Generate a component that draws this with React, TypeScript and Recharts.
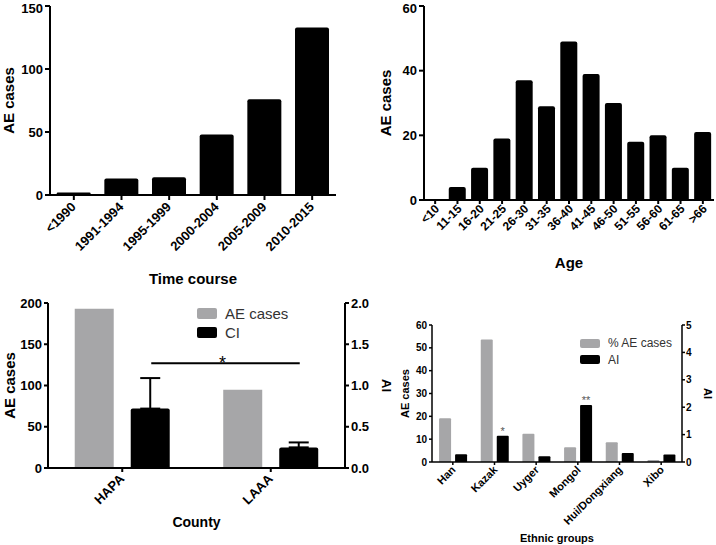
import React from 'react';
import { BarChart, Bar, XAxis, YAxis, ErrorBar, ReferenceLine, Legend, LabelList } from 'recharts';

const FONT = '"Liberation Sans", Arial, Helvetica, sans-serif';
const GRAY = '#a6a6a8';

// A: AE cases by time course
const periods = ['<1990', '1991-1994', '1995-1999', '2000-2004', '2005-2009', '2010-2015'];
const periodCases = [2, 13, 14, 48, 76, 133];

// B: AE cases by age
const ageGroups = ['<10', '11-15', '16-20', '21-25', '26-30', '31-35', '36-40', '41-45', '46-50', '51-55', '56-60', '61-65', '>66'];
const ageCases = [0, 4, 10, 19, 37, 29, 49, 39, 30, 18, 20, 10, 21];

// C: county
const counties = ['HAPA', 'LAAA'];
const countyCases = [193, 95];
const countyCI = [0.72, 0.25];
const countyCIErr = [0.37, 0.06];
const countySigLevel = 1.27;

// D: ethnic groups
const ethnicGroups = ['Han', 'Kazak', 'Uyger', 'Mongol', 'Hui/Dongxiang', 'Xibo'];
const ethnicPct = [19.2, 53.6, 12.4, 6.5, 8.6, 0.9];
const ethnicAI = [0.28, 0.96, 0.21, 2.08, 0.33, 0.27];
const ethnicSig = ['', '*', '', '**', '', ''];

const timeData = periods.map((name, i) => ({ name, cases: periodCases[i] }));
const ageData = ageGroups.map((name, i) => ({ name, cases: ageCases[i] }));
const countyData = counties.map((name, i) => ({ name, cases: countyCases[i], ci: countyCI[i], err: [0, countyCIErr[i]] }));
const ethnicData = ethnicGroups.map((name, i) => ({ name, pct: ethnicPct[i], ai: ethnicAI[i], sig: ethnicSig[i] }));

const line2 = { stroke: '#000', strokeWidth: 2 };
const line15 = { stroke: '#000', strokeWidth: 1.5 };

const SlantTick = (props: any) => {
  const { x, y, payload, size, dx = -2, dy = 6 } = props;
  return (
    <text
      x={x}
      y={y}
      dx={dx}
      dy={dy}
      transform={`rotate(-45 ${x} ${y})`}
      textAnchor="end"
      fontSize={size}
      fontWeight="bold"
      fontFamily={FONT}
      fill="#000"
    >
      {payload.value}
    </text>
  );
};

const yTick = (size: number) => ({ fill: '#000', fontSize: size, fontWeight: 'bold', fontFamily: FONT });

const axisTitle = (size: number) => ({ textAnchor: 'middle', fontWeight: 'bold', fontSize: size, fill: '#000', fontFamily: FONT } as any);

const makeLegend = (fontSize: number, sw: number, sh: number, rowH: number) => (props: any) => (
  <div style={{ fontFamily: FONT, fontSize, color: '#333' }}>
    {props.payload.map((entry: any) => (
      <div key={entry.value} style={{ display: 'flex', alignItems: 'center', height: rowH }}>
        <span style={{ display: 'inline-block', width: sw, height: sh, background: entry.color, borderRadius: 2, marginRight: 8 }} />
        <span>{entry.value}</span>
      </div>
    ))}
  </div>
);

// significance bar drawn between the CI bars (shifted from category centre to the right-hand bar)
const SigLine = (props: any) => {
  const { x1, x2, y1 } = props;
  const shift = 29;
  return (
    <g>
      <line x1={x1 + shift} x2={x2 + shift} y1={y1} y2={y1} stroke="#000" strokeWidth={2} />
      <text x={(x1 + x2) / 2 + shift - 3} y={y1 + 5.5} textAnchor="middle" fontSize={18} fontFamily={FONT} fill="#000">*</text>
    </g>
  );
};

export default function App() {
  return (
    <div style={{ position: 'absolute', left: 0, top: 0, width: 716, height: 545, background: '#fff', overflow: 'hidden' }}>
      {/* A */}
      <div style={{ position: 'absolute', left: 0, top: 0 }}>
        <BarChart width={340} height={290} data={timeData} margin={{ top: 6, right: 4, left: 0, bottom: 0 }} barCategoryGap="14%">
          <XAxis
            dataKey="name"
            height={95}
            axisLine={line2}
            tickLine={line2}
            tickSize={5}
            interval={0}
            tick={(p: any) => <SlantTick {...p} size={13} />}
            label={{ value: 'Time course', position: 'insideBottom', offset: 6, style: axisTitle(15) }}
          />
          <YAxis
            width={50}
            domain={[0, 150]}
            ticks={[0, 50, 100, 150]}
            axisLine={line2}
            tickLine={line2}
            tickSize={5}
            tickMargin={2}
            tick={yTick(13)}
            label={{ value: 'AE cases', angle: -90, position: 'insideLeft', offset: 9, style: axisTitle(15) }}
          />
          <Bar dataKey="cases" fill="#000" radius={[2, 2, 0, 0]} isAnimationActive={false} />
        </BarChart>
      </div>

      {/* B */}
      <div style={{ position: 'absolute', left: 360, top: 0 }}>
        <BarChart width={356} height={290} data={ageData} margin={{ top: 6, right: 2, left: 0, bottom: 0 }} barCategoryGap="11%">
          <XAxis
            dataKey="name"
            height={90}
            axisLine={line2}
            tickLine={line2}
            tickSize={4}
            interval={0}
            tick={(p: any) => <SlantTick {...p} size={12} dx={1} dy={6} />}
            label={{ value: 'Age', position: 'insideBottom', offset: 22, style: axisTitle(15) }}
          />
          <YAxis
            width={64}
            domain={[0, 60]}
            ticks={[0, 20, 40, 60]}
            axisLine={line2}
            tickLine={line2}
            tickSize={5}
            tickMargin={2}
            tick={yTick(13)}
            label={{ value: 'AE cases', angle: -90, position: 'insideLeft', offset: 26, style: axisTitle(15) }}
          />
          <Bar dataKey="cases" fill="#000" radius={[2, 2, 0, 0]} isAnimationActive={false} />
        </BarChart>
      </div>

      {/* C */}
      <div style={{ position: 'absolute', left: 0, top: 280 }}>
        <BarChart width={400} height={265} data={countyData} margin={{ top: 23, right: 0, left: 0, bottom: 0 }} barCategoryGap="18%" barGap={17}>
          <XAxis
            dataKey="name"
            height={77}
            axisLine={line2}
            tickLine={line2}
            tickSize={4}
            interval={0}
            tick={(p: any) => <SlantTick {...p} size={13} />}
            label={{ value: 'County', position: 'insideBottom', offset: 18, style: axisTitle(14) }}
          />
          <YAxis
            yAxisId="left"
            width={48}
            domain={[0, 200]}
            ticks={[0, 50, 100, 150, 200]}
            axisLine={line2}
            tickLine={line2}
            tickSize={4}
            tickMargin={2}
            tick={yTick(13)}
            label={{ value: 'AE cases', angle: -90, position: 'insideLeft', offset: 10, style: axisTitle(15) }}
          />
          <YAxis
            yAxisId="right"
            orientation="right"
            width={55}
            domain={[0, 2]}
            ticks={[0, 0.5, 1, 1.5, 2]}
            tickFormatter={(v: number) => v.toFixed(1)}
            axisLine={line2}
            tickLine={line2}
            tickSize={4}
            tickMargin={2}
            tick={yTick(13)}
            label={{ value: 'AI', angle: 90, position: 'insideRight', offset: 13, style: axisTitle(13) }}
          />
          <Legend
            layout="vertical"
            align="center"
            verticalAlign="middle"
            content={makeLegend(15, 20, 11, 19)}
            wrapperStyle={{ left: 197, top: 24, width: 'auto', height: 'auto' }}
          />
          <Bar yAxisId="left" dataKey="cases" name="AE cases" fill={GRAY} isAnimationActive={false} />
          <Bar yAxisId="right" dataKey="ci" name="CI" fill="#000" radius={[2, 2, 0, 0]} isAnimationActive={false}>
            <ErrorBar dataKey="err" direction="y" width={10} stroke="#000" strokeWidth={2} />
          </Bar>
          <ReferenceLine
            yAxisId="right"
            segment={[{ x: counties[0], y: countySigLevel }, { x: counties[1], y: countySigLevel }]}
            shape={(p: any) => <SigLine {...p} />}
          />
        </BarChart>
      </div>

      {/* D */}
      <div style={{ position: 'absolute', left: 360, top: 300 }}>
        <BarChart width={356} height={245} data={ethnicData} margin={{ top: 25, right: 0, left: 0, bottom: 0 }} barCategoryGap="17%" barGap={4}>
          <XAxis
            dataKey="name"
            height={83}
            axisLine={line15}
            tickLine={line15}
            tickSize={3}
            interval={0}
            tick={(p: any) => <SlantTick {...p} size={11} dx={0} dy={5} />}
            label={{ value: 'Ethnic groups', position: 'insideBottom', offset: 3, style: axisTitle(11) }}
          />
          <YAxis
            yAxisId="left"
            width={72}
            domain={[0, 60]}
            ticks={[0, 10, 20, 30, 40, 50, 60]}
            axisLine={line15}
            tickLine={line15}
            tickSize={3}
            tickMargin={2}
            tick={yTick(10)}
            label={{ value: 'AE cases', angle: -90, position: 'insideLeft', offset: 45, style: axisTitle(11) }}
          />
          <YAxis
            yAxisId="right"
            orientation="right"
            width={34}
            domain={[0, 5]}
            ticks={[0, 1, 2, 3, 4, 5]}
            axisLine={line15}
            tickLine={line15}
            tickSize={3}
            tickMargin={1}
            tick={yTick(10)}
            label={{ value: 'AI', angle: 90, position: 'insideRight', offset: 8, style: axisTitle(11) }}
          />
          <Legend
            layout="vertical"
            align="center"
            verticalAlign="middle"
            content={makeLegend(12, 20, 9, 16.5)}
            wrapperStyle={{ left: 220, top: 35, width: 'auto', height: 'auto' }}
          />
          <Bar yAxisId="left" dataKey="pct" name="% AE cases" fill={GRAY} radius={[1, 1, 0, 0]} isAnimationActive={false} />
          <Bar yAxisId="right" dataKey="ai" name="AI" fill="#000" radius={[1, 1, 0, 0]} isAnimationActive={false}>
            <LabelList dataKey="sig" position="top" offset={1} fill="#555" fontSize={11} fontFamily={FONT} />
          </Bar>
        </BarChart>
      </div>
    </div>
  );
}
